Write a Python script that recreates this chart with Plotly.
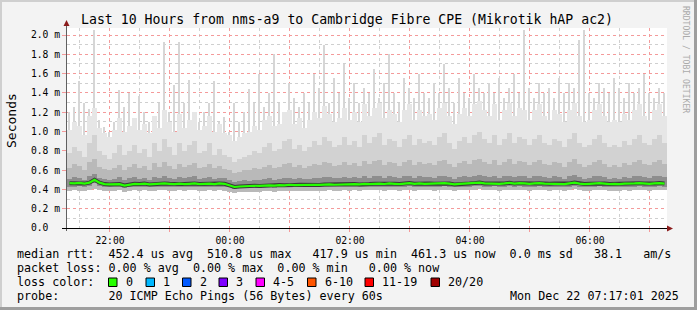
import plotly.graph_objects as go
import pandas as pd

# ---------------- data (5-minute columns) ----------------
START = "2025-12-21 21:17:01"
END = "2025-12-22 07:17:01"
STEP_MIN = 5

median_ms = [
    0.465, 0.462, 0.468, 0.460, 0.470, 0.500, 0.470, 0.455, 0.452, 0.450, 0.455, 0.440,
    0.450, 0.458, 0.455, 0.460, 0.452, 0.457, 0.455, 0.462, 0.458, 0.455, 0.460, 0.455,
    0.458, 0.462, 0.455, 0.458, 0.460, 0.455, 0.462, 0.458, 0.445, 0.425, 0.430, 0.435,
    0.433, 0.438, 0.436, 0.440, 0.442, 0.440, 0.445, 0.442, 0.448, 0.445, 0.447, 0.445,
    0.445, 0.448, 0.446, 0.450, 0.452, 0.448, 0.450, 0.455, 0.452, 0.455, 0.452, 0.458,
    0.455, 0.458, 0.460, 0.456, 0.462, 0.458, 0.455, 0.460, 0.465, 0.458, 0.462, 0.458,
    0.460, 0.458, 0.462, 0.465, 0.460, 0.452, 0.458, 0.462, 0.460, 0.465, 0.470, 0.462,
    0.460, 0.465, 0.458, 0.462, 0.468, 0.460, 0.465, 0.462, 0.458, 0.462, 0.465, 0.460,
    0.458, 0.462, 0.460, 0.455, 0.462, 0.470, 0.460, 0.455, 0.458, 0.462, 0.465, 0.460,
    0.455, 0.458, 0.455, 0.460, 0.458, 0.462, 0.465, 0.460, 0.458, 0.462, 0.465, 0.460,
]
min_ms = [
    0.38, 0.39, 0.38, 0.38, 0.39, 0.40, 0.39, 0.38, 0.38, 0.38, 0.39, 0.37,
    0.38, 0.39, 0.38, 0.39, 0.38, 0.38, 0.39, 0.39, 0.38, 0.38, 0.39, 0.38,
    0.39, 0.39, 0.38, 0.38, 0.39, 0.38, 0.39, 0.38, 0.37, 0.36, 0.37, 0.37,
    0.37, 0.37, 0.37, 0.38, 0.38, 0.37, 0.38, 0.38, 0.38, 0.38, 0.38, 0.38,
    0.38, 0.38, 0.38, 0.38, 0.39, 0.38, 0.38, 0.39, 0.38, 0.39, 0.38, 0.39,
    0.39, 0.39, 0.39, 0.38, 0.39, 0.39, 0.38, 0.39, 0.39, 0.38, 0.39, 0.39,
    0.39, 0.38, 0.39, 0.39, 0.39, 0.38, 0.39, 0.39, 0.39, 0.39, 0.40, 0.39,
    0.39, 0.39, 0.38, 0.39, 0.39, 0.39, 0.39, 0.39, 0.38, 0.39, 0.39, 0.39,
    0.38, 0.39, 0.39, 0.38, 0.39, 0.40, 0.39, 0.38, 0.38, 0.39, 0.39, 0.39,
    0.38, 0.38, 0.38, 0.39, 0.38, 0.39, 0.39, 0.39, 0.38, 0.39, 0.39, 0.39,
]
dark_low_ms = [
    0.43, 0.43, 0.44, 0.43, 0.44, 0.47, 0.44, 0.43, 0.43, 0.42, 0.43, 0.41,
    0.42, 0.43, 0.43, 0.43, 0.42, 0.43, 0.43, 0.43, 0.43, 0.42, 0.43, 0.43,
    0.43, 0.43, 0.43, 0.43, 0.43, 0.43, 0.43, 0.43, 0.42, 0.40, 0.41, 0.41,
    0.41, 0.41, 0.41, 0.42, 0.42, 0.41, 0.42, 0.42, 0.42, 0.42, 0.42, 0.42,
    0.42, 0.42, 0.42, 0.42, 0.43, 0.42, 0.42, 0.43, 0.42, 0.43, 0.42, 0.43,
    0.43, 0.43, 0.43, 0.43, 0.43, 0.43, 0.43, 0.43, 0.44, 0.43, 0.43, 0.43,
    0.43, 0.43, 0.43, 0.44, 0.43, 0.42, 0.43, 0.43, 0.43, 0.44, 0.44, 0.43,
    0.43, 0.44, 0.43, 0.43, 0.44, 0.43, 0.44, 0.43, 0.43, 0.43, 0.44, 0.43,
    0.43, 0.43, 0.43, 0.42, 0.43, 0.44, 0.43, 0.42, 0.43, 0.43, 0.44, 0.43,
    0.42, 0.43, 0.42, 0.43, 0.43, 0.43, 0.44, 0.43, 0.43, 0.43, 0.44, 0.43,
]
dark_high_ms = [
    0.51, 0.53, 0.52, 0.50, 0.54, 0.56, 0.52, 0.51, 0.50, 0.51, 0.53, 0.50,
    0.52, 0.53, 0.51, 0.52, 0.50, 0.53, 0.52, 0.54, 0.52, 0.51, 0.53, 0.52,
    0.53, 0.54, 0.51, 0.52, 0.53, 0.51, 0.52, 0.52, 0.50, 0.48, 0.49, 0.50,
    0.49, 0.50, 0.50, 0.51, 0.52, 0.50, 0.51, 0.52, 0.52, 0.51, 0.52, 0.51,
    0.51, 0.52, 0.52, 0.53, 0.53, 0.52, 0.52, 0.53, 0.52, 0.53, 0.52, 0.54,
    0.52, 0.54, 0.54, 0.52, 0.54, 0.53, 0.52, 0.54, 0.54, 0.52, 0.54, 0.53,
    0.53, 0.52, 0.54, 0.54, 0.53, 0.51, 0.53, 0.54, 0.53, 0.54, 0.55, 0.54,
    0.53, 0.54, 0.52, 0.54, 0.54, 0.53, 0.54, 0.54, 0.52, 0.54, 0.54, 0.53,
    0.52, 0.54, 0.53, 0.51, 0.54, 0.55, 0.53, 0.51, 0.52, 0.54, 0.54, 0.53,
    0.51, 0.52, 0.51, 0.53, 0.52, 0.54, 0.54, 0.53, 0.52, 0.54, 0.54, 0.53,
]
inner_high_ms = [
    0.62, 0.66, 0.64, 0.60, 0.68, 0.72, 0.63, 0.61, 0.60, 0.62, 0.65, 0.60,
    0.63, 0.66, 0.62, 0.64, 0.60, 0.67, 0.63, 0.68, 0.64, 0.61, 0.66, 0.63,
    0.65, 0.67, 0.62, 0.63, 0.66, 0.62, 0.64, 0.61, 0.60, 0.57, 0.58, 0.60,
    0.60, 0.62, 0.61, 0.63, 0.65, 0.62, 0.63, 0.66, 0.67, 0.63, 0.65, 0.62,
    0.64, 0.66, 0.65, 0.68, 0.67, 0.64, 0.65, 0.68, 0.65, 0.67, 0.64, 0.69,
    0.66, 0.69, 0.70, 0.65, 0.68, 0.67, 0.64, 0.68, 0.70, 0.65, 0.68, 0.66,
    0.67, 0.65, 0.69, 0.70, 0.66, 0.63, 0.67, 0.69, 0.66, 0.70, 0.72, 0.68,
    0.66, 0.70, 0.65, 0.68, 0.71, 0.66, 0.69, 0.68, 0.65, 0.68, 0.70, 0.66,
    0.65, 0.68, 0.67, 0.63, 0.68, 0.72, 0.66, 0.63, 0.65, 0.68, 0.70, 0.66,
    0.63, 0.65, 0.63, 0.67, 0.65, 0.68, 0.70, 0.66, 0.65, 0.68, 0.70, 0.66,
]
mid_high_ms = [
    0.78, 0.84, 0.80, 0.74, 0.88, 0.96, 0.80, 0.76, 0.72, 0.78, 0.86, 0.76,
    0.80, 0.86, 0.78, 0.82, 0.74, 0.88, 0.80, 0.92, 0.84, 0.76, 0.88, 0.80,
    0.86, 0.90, 0.78, 0.80, 0.88, 0.76, 0.82, 0.76, 0.74, 0.68, 0.72, 0.74,
    0.76, 0.80, 0.78, 0.84, 0.88, 0.80, 0.82, 0.90, 0.92, 0.82, 0.86, 0.80,
    0.84, 0.90, 0.86, 0.94, 0.90, 0.84, 0.86, 0.94, 0.86, 0.90, 0.84, 0.96,
    0.88, 0.94, 0.98, 0.86, 0.92, 0.90, 0.84, 0.92, 0.96, 0.86, 0.92, 0.88,
    0.90, 0.86, 0.94, 0.98, 0.88, 0.82, 0.90, 0.94, 0.88, 0.96, 1.00, 0.92,
    0.88, 0.96, 0.86, 0.92, 0.98, 0.88, 0.94, 0.92, 0.86, 0.92, 0.96, 0.88,
    0.86, 0.92, 0.90, 0.84, 0.92, 0.98, 0.88, 0.84, 0.86, 0.92, 0.96, 0.88,
    0.84, 0.86, 0.84, 0.90, 0.86, 0.92, 0.96, 0.88, 0.86, 0.92, 0.96, 0.88,
]
light_high_ms = [
    1.02, 1.10, 1.06, 0.96, 1.16, 1.24, 1.04, 0.98, 0.94, 1.02, 1.14, 1.00,
    1.06, 1.14, 1.02, 1.08, 0.98, 1.16, 1.04, 1.22, 1.10, 1.00, 1.18, 1.04,
    1.12, 1.20, 1.02, 1.06, 1.16, 1.00, 1.08, 0.98, 0.96, 0.90, 0.94, 0.98,
    1.00, 1.06, 1.02, 1.12, 1.16, 1.06, 1.08, 1.20, 1.22, 1.08, 1.14, 1.04,
    1.12, 1.20, 1.14, 1.26, 1.18, 1.10, 1.14, 1.24, 1.12, 1.20, 1.10, 1.28,
    1.16, 1.24, 1.30, 1.14, 1.22, 1.18, 1.10, 1.22, 1.28, 1.12, 1.22, 1.16,
    1.18, 1.12, 1.24, 1.30, 1.16, 1.08, 1.18, 1.24, 1.16, 1.28, 1.32, 1.22,
    1.16, 1.28, 1.12, 1.22, 1.30, 1.16, 1.24, 1.22, 1.12, 1.22, 1.28, 1.16,
    1.12, 1.22, 1.18, 1.10, 1.22, 1.30, 1.16, 1.10, 1.12, 1.22, 1.28, 1.16,
    1.10, 1.12, 1.10, 1.18, 1.12, 1.22, 1.28, 1.16, 1.12, 1.22, 1.28, 1.16,
]
max_ms = [
    1.20, 1.25, 1.52, 1.30, 1.23, 2.05, 1.12, 1.05, 1.00, 1.10, 1.43, 1.25,
    1.40, 1.10, 1.37, 1.20, 1.10, 1.15, 1.30, 1.93, 1.20, 1.48, 1.93, 1.30,
    1.53, 1.20, 1.10, 1.20, 1.30, 1.52, 1.10, 1.15, 1.00, 1.30, 1.10, 1.20,
    1.44, 1.30, 1.60, 1.25, 1.40, 1.80, 1.30, 1.20, 1.50, 1.35, 1.25, 1.40,
    1.30, 1.60, 1.45, 1.90, 1.30, 1.55, 1.40, 1.70, 1.35, 1.50, 1.30, 1.45,
    1.40, 1.65, 1.35, 1.50, 1.80, 1.40, 1.30, 1.55, 1.45, 1.35, 1.60, 1.40,
    1.35, 1.50, 1.40, 1.70, 1.45, 1.30, 1.55, 1.40, 1.35, 1.60, 1.45, 1.40,
    1.50, 1.40, 1.55, 1.35, 1.45, 1.60, 1.40, 2.05, 1.45, 1.35, 1.50, 1.40,
    1.45, 1.35, 1.55, 1.40, 1.50, 1.45, 1.95, 2.05, 1.40, 1.35, 1.50, 1.45,
    1.40, 1.55, 1.45, 1.35, 1.50, 1.40, 1.45, 1.60, 1.40, 1.35, 1.45, 1.40,
]

y_tick_vals = [0.0, 0.2, 0.4, 0.6, 0.8, 1.0, 1.2, 1.4, 1.6, 1.8, 2.0]
y_tick_text = ["0.0\u00a0\u00a0", "0.2 m", "0.4 m", "0.6 m", "0.8 m", "1.0 m",
               "1.2 m", "1.4 m", "1.6 m", "1.8 m", "2.0 m"]
x_tick_hours = ["2025-12-21 22:00", "2025-12-21 23:00", "2025-12-22 00:00",
                "2025-12-22 01:00", "2025-12-22 02:00", "2025-12-22 03:00",
                "2025-12-22 04:00", "2025-12-22 05:00", "2025-12-22 06:00",
                "2025-12-22 07:00"]
x_tick_text = ["22:00", "", "00:00", "", "02:00", "", "04:00", "", "06:00", ""]

title_text = "Last 10 Hours from nms-a9 to Cambridge Fibre CPE (Mikrotik hAP ac2)"
legend_lines = [
    "median rtt:  452.4 us avg  510.8 us max   417.9 us min  461.3 us now  0.0 ms sd   38.1   am/s",
    "packet loss: 0.00 % avg  0.00 % max  0.00 % min   0.00 % now",
    "loss color:",
    "probe:       20 ICMP Echo Pings (56 Bytes) every 60s",
]
loss_labels = ["0", "1", "2", "3", "4-5", "6-10", "11-19", "20/20"]
loss_colors = ["#26ff00", "#00b8ff", "#0059ff", "#7e00ff", "#ff00ff", "#ff5500", "#ff0000", "#a00000"]
date_text = "Mon Dec 22 07:17:01 2025"
watermark = "RRDTOOL / TOBI OETIKER"

# ---------------- geometry ----------------
W, H = 697, 310
PX0, PX1, PY0, PY1 = 67, 667, 28, 228
Y_TOP = 2.0725
MONO = "DejaVu Sans Mono"


def fx(px):
    return (px - PX0) / (PX1 - PX0)


def fy(py):
    return (PY1 - py) / (PY1 - PY0)


t0 = pd.Timestamp(START)
times = [t0 + pd.Timedelta(minutes=STEP_MIN * i + STEP_MIN / 2) for i in range(len(median_ms))]
col_ms = STEP_MIN * 60 * 1000

fig = go.Figure()


def band(lo, hi, color, width_frac):
    fig.add_trace(go.Bar(
        x=times, base=lo, y=[h - l for h, l in zip(hi, lo)],
        width=col_ms * width_frac, marker=dict(color=color, line=dict(width=0)),
        hoverinfo="skip", showlegend=False))


band(min_ms, max_ms, "#d6d6d6", 0.3)
band(min_ms, light_high_ms, "#e6e6e6", 1.0)
band(min_ms, mid_high_ms, "#d2d2d2", 1.0)
band(min_ms, inner_high_ms, "#b9b9b9", 1.0)
band(dark_low_ms, dark_high_ms, "#8e8e8e", 1.0)
fig.add_trace(go.Scatter(x=times, y=median_ms, mode="lines",
                         line=dict(color="#3a3a3a", width=4), hoverinfo="skip", showlegend=False))
fig.add_trace(go.Scatter(x=times, y=median_ms, mode="lines",
                         line=dict(color="#26ff00", width=2.2), hoverinfo="skip", showlegend=False))

fig.update_layout(
    width=W, height=H, barmode="overlay", bargap=0,
    margin=dict(l=PX0, r=W - PX1, t=PY0, b=H - PY1, pad=0),
    paper_bgcolor="#f3f3f3", plot_bgcolor="#ffffff",
    font=dict(family=MONO, size=11.7, color="#000000"),
    xaxis=dict(
        type="date", range=[START, END],
        tickmode="array", tickvals=x_tick_hours, ticktext=x_tick_text,
        tickfont=dict(size=9.7, color="#000000"),
        showgrid=True, gridcolor="#f49a9a", griddash="dot", gridwidth=1,
        ticks="outside", ticklen=3, tickcolor="#f49a9a",
        minor=dict(dtick=30 * 60 * 1000, tick0="2025-12-21 21:30", showgrid=True,
                   gridcolor="#cfcfcf", griddash="dot", gridwidth=1, ticks=""),
        showline=False, zeroline=False, fixedrange=True,
    ),
    yaxis=dict(
        range=[0, Y_TOP], tickmode="array", tickvals=y_tick_vals, ticktext=y_tick_text,
        tickfont=dict(size=9.7, color="#000000"),
        showgrid=True, gridcolor="#f49a9a", griddash="dot", gridwidth=1,
        ticks="outside", ticklen=4, tickcolor="#f49a9a",
        minor=dict(dtick=0.1, tick0=0, showgrid=True, gridcolor="#cfcfcf",
                   griddash="dot", gridwidth=1, ticks=""),
        showline=False, zeroline=False, fixedrange=True,
    ),
)

shapes = []
# frame shading
shapes.append(dict(type="rect", xref="paper", yref="paper", x0=fx(0), x1=fx(W), y0=fy(0), y1=fy(2),
                   fillcolor="#cfcfcf", line=dict(width=0), layer="above"))
shapes.append(dict(type="rect", xref="paper", yref="paper", x0=fx(0), x1=fx(2), y0=fy(0), y1=fy(H),
                   fillcolor="#cfcfcf", line=dict(width=0), layer="above"))
shapes.append(dict(type="rect", xref="paper", yref="paper", x0=fx(W - 3), x1=fx(W), y0=fy(0), y1=fy(H),
                   fillcolor="#9e9e9e", line=dict(width=0), layer="above"))
shapes.append(dict(type="rect", xref="paper", yref="paper", x0=fx(0), x1=fx(W), y0=fy(H - 3), y1=fy(H),
                   fillcolor="#9e9e9e", line=dict(width=0), layer="above"))
# axes lines
shapes.append(dict(type="line", xref="paper", yref="paper", x0=fx(66.5), x1=fx(66.5), y0=fy(231), y1=fy(24),
                   line=dict(color="#606060", width=1), layer="above"))
shapes.append(dict(type="line", xref="paper", yref="paper", x0=fx(62), x1=fx(668), y0=fy(228.5), y1=fy(228.5),
                   line=dict(color="#000000", width=1), layer="above"))
# arrows
shapes.append(dict(type="path", xref="paper", yref="paper",
                   path=f"M {fx(63.5)} {fy(26)} L {fx(69.5)} {fy(26)} L {fx(66.5)} {fy(20)} Z",
                   fillcolor="#8b1c1c", line=dict(width=0), layer="above"))
shapes.append(dict(type="path", xref="paper", yref="paper",
                   path=f"M {fx(667)} {fy(225.5)} L {fx(667)} {fy(231.5)} L {fx(673)} {fy(228.5)} Z",
                   fillcolor="#8b1c1c", line=dict(width=0), layer="above"))

annotations = []
annotations.append(dict(text=title_text, xref="paper", yref="paper", x=fx(347), y=fy(19),
                        xanchor="center", yanchor="middle", showarrow=False,
                        font=dict(family=MONO, size=13.2, color="#000000")))
annotations.append(dict(text="Seconds", xref="paper", yref="paper", x=fx(11), y=fy(121),
                        xanchor="center", yanchor="middle", showarrow=False, textangle=-90,
                        font=dict(family=MONO, size=13, color="#000000")))
annotations.append(dict(text=watermark.replace(" ", "\u00a0"), xref="paper", yref="paper", x=fx(686), y=fy(59),
                        xanchor="center", yanchor="middle", showarrow=False, textangle=90,
                        font=dict(family=MONO, size=8.1, color="#aaaaaa")))
line_y = [254, 268, 282, 296]
for txt, py in zip(legend_lines, line_y):
    annotations.append(dict(text=txt.replace(" ", "\u00a0"), xref="paper", yref="paper", x=fx(15), y=fy(py),
                            xanchor="left", yanchor="middle", showarrow=False,
                            font=dict(family=MONO, size=11.7, color="#000000")))
annotations.append(dict(text=date_text.replace(" ", "\u00a0"), xref="paper", yref="paper", x=fx(681), y=fy(296),
                        xanchor="right", yanchor="middle", showarrow=False,
                        font=dict(family=MONO, size=11.7, color="#000000")))
box_x = [108.5, 146, 182.5, 219, 256, 307.5, 365, 431]
for bx, lab, col in zip(box_x, loss_labels, loss_colors):
    shapes.append(dict(type="rect", xref="paper", yref="paper", x0=fx(bx), x1=fx(bx + 8.5),
                       y0=fy(286.5), y1=fy(278), fillcolor=col, line=dict(color="#000000", width=1),
                       layer="above"))
    annotations.append(dict(text=lab, xref="paper", yref="paper", x=fx(bx + 15), y=fy(282),
                            xanchor="left", yanchor="middle", showarrow=False,
                            font=dict(family=MONO, size=11.7, color="#000000")))

fig.update_layout(shapes=shapes, annotations=annotations)
fig.write_html("out.html")
